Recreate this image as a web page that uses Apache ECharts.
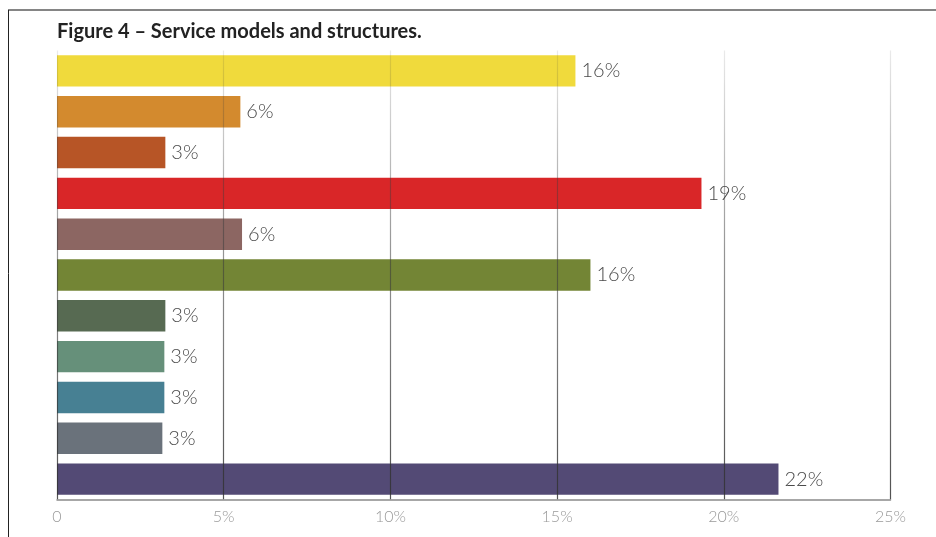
<!DOCTYPE html>
<html>
<head>
<meta charset="utf-8">
<title>Service models and structures</title>
<script src="https://cdn.jsdelivr.net/npm/echarts@6/dist/echarts.min.js"></script>
<style>
  html, body { margin: 0; padding: 0; background: #ffffff; }
  #chart { width: 936px; height: 537px; }
</style>
</head>
<body>
<div id="chart"></div>
<script>
// Service model categories, top to bottom
const categories = [
  'Model 1', 'Model 2', 'Model 3', 'Model 4', 'Model 5', 'Model 6',
  'Model 7', 'Model 8', 'Model 9', 'Model 10', 'Model 11'
];

// Share of respondents per model (%)
const shares = [15.55, 5.5, 3.25, 19.33, 5.55, 16, 3.25, 3.22, 3.22, 3.16, 21.64];

// Bar colours per model
const barColors = [
  '#f0da3c', '#d38a2e', '#b75526', '#d92628', '#8c6662', '#738535',
  '#576a52', '#66907a', '#478093', '#6a727b', '#534a75'
];

// Value axis: 0 to 25 % in steps of 5
const axisMin = 0;
const axisMax = 25;
const axisStep = 5;

const chart = echarts.init(document.getElementById('chart'), null, { renderer: 'canvas' });

// Grid lines fade in from the top of the plot towards the axis
const gridFade = new echarts.graphic.LinearGradient(0, 0, 0, 1, [
  { offset: 0, color: 'rgba(60,60,60,0.10)' },
  { offset: 0.45, color: 'rgba(60,60,60,0.55)' },
  { offset: 1, color: 'rgba(50,50,50,0.85)' }
]);

chart.setOption({
  backgroundColor: '#ffffff',
  animation: false,
  title: {
    text: 'Figure 4 – Service models and structures.',
    left: 57,
    top: 22,
    padding: 0,
    textStyle: {
      fontFamily: 'Lato',
      fontWeight: 'bold',
      fontSize: 20,
      color: '#222222'
    }
  },
  grid: {
    left: 57,
    right: 45.5,
    top: 50.5,
    bottom: 37.5,
    containLabel: false
  },
  xAxis: {
    type: 'value',
    min: axisMin,
    max: axisMax,
    interval: axisStep,
    z: 5,
    axisLine: {
      show: true,
      lineStyle: { color: '#8a8a8a', width: 1.5 }
    },
    axisTick: { show: false },
    axisLabel: {
      margin: 9,
      color: '#999999',
      fontFamily: 'Lato',
      fontWeight: 300,
      fontSize: 16,
      formatter: v => (v === 0 ? '0' : v + '%')
    },
    splitLine: {
      show: true,
      showMinLine: true,
      showMaxLine: true,
      lineStyle: { color: gridFade, width: 1.2 }
    }
  },
  yAxis: {
    type: 'category',
    data: categories,
    inverse: true,
    axisLine: { show: false },
    axisTick: { show: false },
    axisLabel: { show: false },
    splitLine: { show: false }
  },
  series: [{
    type: 'bar',
    data: shares.map((v, i) => ({ value: v, itemStyle: { color: barColors[i] } })),
    barWidth: '77%',
    label: {
      show: true,
      position: 'right',
      distance: 6,
      color: '#4a4a4a',
      fontFamily: 'Lato',
      fontWeight: 300,
      fontSize: 20,
      formatter: p => Math.round(p.value) + '%'
    }
  }],
  graphic: [
    {
      type: 'line',
      shape: { x1: 8, y1: 10, x2: 936, y2: 10 },
      style: { stroke: '#858585', lineWidth: 2 },
      silent: true
    },
    {
      type: 'line',
      shape: { x1: 8.5, y1: 10, x2: 8.5, y2: 537 },
      style: { stroke: '#222222', lineWidth: 1 },
      silent: true
    }
  ]
});
</script>
</body>
</html>
